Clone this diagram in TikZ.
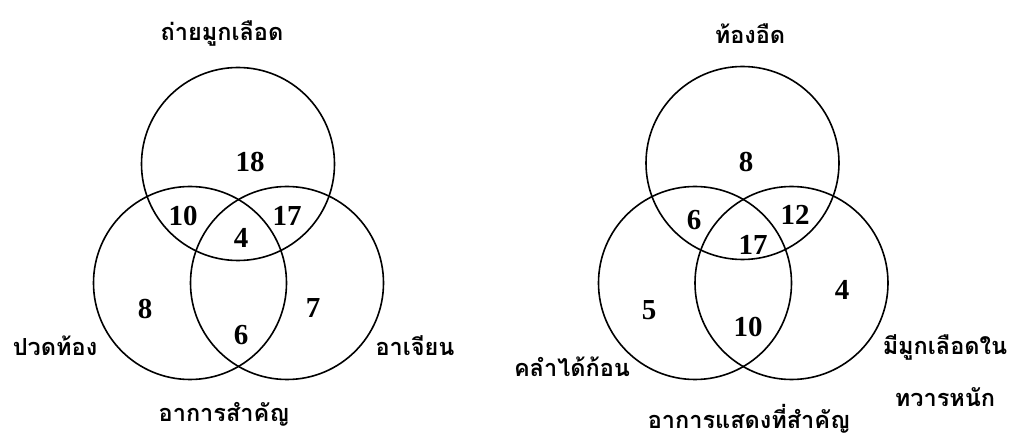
\documentclass[tikz,border=0pt]{standalone}
\usepackage{fontspec}
\setmainfont{Liberation Serif}
\newfontfamily\thaifont[Script=Thai]{Loma}
\begin{document}
\begin{tikzpicture}[x=1pt,y=-1pt,
  venn/.style={circle,draw=black,line width=1.6pt,minimum size=193pt,inner sep=0pt},
  num/.style={font=\fontsize{29}{31}\selectfont\bfseries,inner sep=0pt},
  lab/.style={font=\thaifont\fontsize{23.5}{28}\selectfont\bfseries,inner sep=0pt,align=center}]
\useasboundingbox (0,0) rectangle (1010,438);
% left diagram
\node[venn] (A) at (238,164) {};
\node[venn] (B) at (190,283) {};
\node[venn] (C) at (287,283) {};
\node[num] (a18) at (250,162) {18};
\node[num] (a10) at (183,216) {10};
\node[num] (a17) at (287,216) {17};
\node[num] (a4) at (241,238) {4};
\node[num] (a8) at (145,309) {8};
\node[num] (a7) at (313,308) {7};
\node[num] (a6) at (241,335) {6};
\node[lab] (lA) at (222,34) {ถ่ายมูกเลือด};
\node[lab] (lB) at (55,346) {ปวดท้อง};
\node[lab] (lC) at (415,346) {อาเจียน};
\node[lab] (lD) at (224,414) {อาการสำคัญ};
% right diagram
\node[venn] (D) at (742.5,163) {};
\node[venn] (E) at (695,283) {};
\node[venn] (F) at (791.5,283) {};
\node[num] (b8) at (746,162) {8};
\node[num] (b6) at (694,220) {6};
\node[num] (b12) at (795,215) {12};
\node[num] (b17) at (753,245) {17};
\node[num] (b5) at (649,310) {5};
\node[num] (b4) at (842,290) {4};
\node[num] (b10) at (748,327) {10};
\node[lab] (lE) at (750,34) {ท้องอืด};
\node[lab] (lF) at (572,367) {คลำได้ก้อน};
\node[lab] (lG) at (945,347) {มีมูกเลือดใน};
\node[lab] (lH) at (945,397) {ทวารหนัก};
\node[lab] (lI) at (749,419) {อาการแสดงที่สำคัญ};
\end{tikzpicture}
\end{document}
